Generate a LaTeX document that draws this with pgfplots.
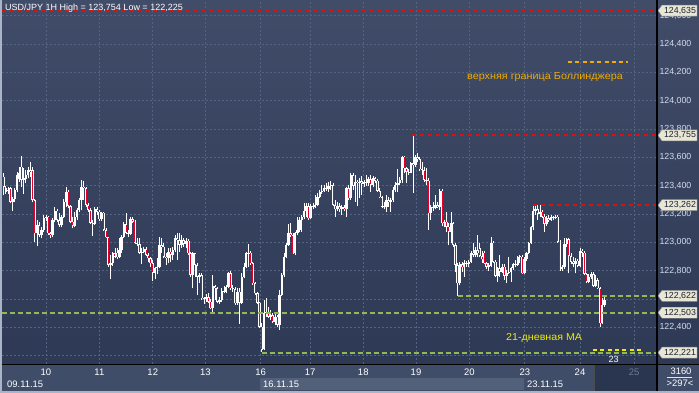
\documentclass[border=0pt]{standalone}
\usepackage{pgfplots}
\pgfplotsset{compat=1.18}
\usepackage{pgfplotstable}
\usepackage{fontspec}
\setmainfont{Liberation Sans}
\definecolor{edgec}{RGB}{170,180,198}
\definecolor{bgtop}{RGB}{64,76,104}
\definecolor{bgbot}{RGB}{46,57,85}
\definecolor{gridc}{RGB}{84,99,130}
\definecolor{stripc}{RGB}{64,77,104}
\definecolor{bandc}{RGB}{83,96,122}
\definecolor{futurec}{RGB}{42,53,79}
\definecolor{candred}{RGB}{228,0,40}
\definecolor{lvlred}{RGB}{214,18,18}
\definecolor{lvlgreen}{RGB}{145,185,85}
\definecolor{bollc}{RGB}{240,172,0}
\definecolor{mac}{RGB}{236,236,0}
\definecolor{tickc}{RGB}{212,222,240}
\definecolor{flagc}{RGB}{232,230,212}
\definecolor{flagtext}{RGB}{28,34,50}
\definecolor{daygrey}{RGB}{110,124,150}
\newcommand\lblfont{\fontsize{8.8}{10}\selectfont}
\pgfplotstableread{
i o h l c
0 123.463 123.487 123.334 123.393
1 123.357 123.397 123.341 123.381
2 123.369 123.393 123.341 123.364
3 123.381 123.393 123.275 123.287
4 123.287 123.322 123.223 123.303
5 123.303 123.381 123.287 123.369
6 123.369 123.498 123.357 123.475
7 123.444 123.534 123.428 123.487
8 123.534 123.609 123.393 123.440
9 123.440 123.522 123.341 123.451
10 123.444 123.510 123.416 123.475
11 123.475 123.534 123.451 123.510
12 123.510 123.569 123.463 123.498
13 123.510 123.534 123.287 123.299
14 123.299 123.303 123.005 123.063
15 123.063 123.157 122.974 123.122
16 123.122 123.146 123.040 123.052
17 123.052 123.110 123.028 123.087
18 123.087 123.193 123.075 123.169
19 123.169 123.193 123.153 123.181
20 123.181 123.186 123.052 123.063
21 123.063 123.075 123.028 123.052
22 123.052 123.169 123.040 123.157
23 123.157 123.252 123.146 123.223
24 123.223 123.233 123.146 123.157
25 123.157 123.204 123.110 123.122
26 123.122 123.193 123.110 123.181
27 123.181 123.303 123.169 123.287
28 123.287 123.393 123.252 123.357
29 123.357 123.369 123.240 123.256
30 123.256 123.263 123.134 123.146
31 123.146 123.181 123.099 123.115
32 123.115 123.216 123.106 123.181
33 123.181 123.240 123.157 123.228
34 123.228 123.310 123.216 123.299
35 123.299 123.440 123.228 123.393
36 123.393 123.435 123.299 123.381
37 123.381 123.393 123.252 123.263
38 123.263 123.275 123.216 123.228
39 123.228 123.240 123.129 123.139
40 123.139 123.157 123.045 123.129
41 123.129 123.247 123.122 123.233
42 123.233 123.247 123.193 123.216
43 123.216 123.228 123.153 123.162
44 123.162 123.216 123.153 123.209
45 123.209 123.216 123.082 123.087
46 123.087 123.099 123.028 123.035
47 123.035 123.040 122.828 122.840
48 122.840 122.910 122.739 122.852
49 122.852 122.934 122.833 122.922
50 122.922 122.958 122.887 122.899
51 122.927 122.958 122.880 122.894
52 122.894 123.028 122.887 122.946
53 122.946 123.052 122.922 123.035
54 123.035 123.146 123.028 123.129
55 123.129 123.204 123.059 123.068
56 123.068 123.087 123.040 123.059
57 123.059 123.176 123.052 123.162
58 123.162 123.181 123.134 123.146
59 123.146 123.157 122.988 122.998
60 122.998 123.028 122.974 122.988
61 122.988 123.028 122.918 122.927
62 122.927 122.958 122.847 122.934
63 122.934 122.969 122.922 122.953
64 122.953 122.965 122.903 122.910
65 122.910 122.922 122.863 122.887
66 122.887 122.899 122.828 122.852
67 122.852 122.875 122.729 122.786
68 122.786 122.828 122.739 122.816
69 122.816 122.887 122.776 122.828
70 122.828 123.040 122.816 122.981
71 122.981 123.028 122.922 122.969
72 122.969 122.993 122.887 122.899
73 122.899 122.922 122.840 122.887
74 122.887 122.958 122.852 122.934
75 122.934 122.958 122.863 122.910
76 122.910 122.969 122.875 122.946
77 122.946 123.052 122.934 123.028
78 123.028 123.063 122.875 123.016
79 123.016 123.068 122.934 122.981
80 122.981 123.052 122.958 123.016
81 123.016 123.028 122.969 122.988
82 122.988 123.028 122.958 123.012
83 123.012 123.021 122.910 122.922
84 122.922 122.934 122.758 122.769
85 122.769 122.934 122.675 122.922
86 122.922 122.927 122.758 122.840
87 122.840 122.852 122.628 122.758
88 122.758 122.781 122.710 122.769
89 122.769 122.781 122.593 122.605
90 122.605 122.616 122.565 122.598
91 122.598 122.635 122.581 122.612
92 122.612 122.640 122.574 122.581
93 122.581 122.598 122.527 122.534
94 122.534 122.769 122.494 122.692
95 122.692 122.699 122.593 122.675
96 122.675 122.687 122.569 122.581
97 122.581 122.616 122.565 122.593
98 122.593 122.675 122.581 122.659
99 122.659 122.692 122.640 122.652
100 122.652 122.699 122.640 122.687
101 122.687 122.793 122.675 122.781
102 122.781 122.800 122.664 122.675
103 122.675 122.699 122.652 122.668
104 122.668 122.687 122.558 122.569
105 122.569 122.675 122.558 122.652
106 122.652 122.675 122.424 122.574
107 122.574 122.781 122.565 122.758
108 122.758 122.852 122.746 122.828
109 122.828 122.934 122.816 122.922
110 122.922 122.988 122.828 122.927
111 122.927 122.941 122.840 122.852
112 122.852 122.863 122.699 122.710
113 122.710 122.722 122.628 122.640
114 122.640 122.652 122.565 122.574
115 122.574 122.581 122.393 122.405
116 122.405 122.428 122.225 122.240
117 122.250 122.593 122.238 122.499
118 122.499 122.605 122.475 122.511
119 122.511 122.546 122.464 122.475
120 122.475 122.522 122.452 122.487
121 122.487 122.499 122.428 122.440
122 122.440 122.511 122.416 122.475
123 122.475 122.487 122.400 122.416
124 122.416 122.664 122.381 122.628
125 122.628 122.781 122.621 122.769
126 122.769 122.922 122.758 122.899
127 122.899 122.993 122.887 122.981
128 122.981 123.129 122.974 123.063
129 123.063 123.134 123.040 123.052
130 123.052 123.068 122.918 122.922
131 122.922 123.075 122.910 123.063
132 123.063 123.181 123.052 123.087
133 123.087 123.181 123.075 123.157
134 123.157 123.193 123.075 123.181
135 123.181 123.275 123.162 123.223
136 123.223 123.275 123.181 123.256
137 123.256 123.275 123.157 123.169
138 123.169 123.270 123.162 123.256
139 123.256 123.275 123.233 123.247
140 123.247 123.334 123.240 123.263
141 123.263 123.346 123.256 123.322
142 123.322 123.369 123.310 123.357
143 123.357 123.404 123.341 123.364
144 123.364 123.404 123.357 123.381
145 123.381 123.416 123.364 123.374
146 123.374 123.428 123.357 123.397
147 123.397 123.433 123.369 123.404
148 123.404 123.416 123.256 123.263
149 123.263 123.299 123.181 123.233
150 123.233 123.287 123.223 123.256
151 123.256 123.275 123.216 123.233
152 123.233 123.263 123.193 123.247
153 123.247 123.263 123.223 123.233
154 123.233 123.393 123.181 123.381
155 123.381 123.404 123.299 123.310
156 123.310 123.487 123.299 123.475
157 123.475 123.491 123.369 123.397
158 123.397 123.475 123.287 123.428
159 123.428 123.440 123.256 123.416
160 123.416 123.451 123.310 123.433
161 123.433 123.468 123.334 123.411
162 123.411 123.440 123.393 123.428
163 123.428 123.475 123.397 123.421
164 123.421 123.463 123.397 123.444
165 123.444 123.475 123.357 123.404
166 123.404 123.468 123.393 123.451
167 123.451 123.463 123.416 123.435
168 123.435 123.444 123.357 123.362
169 123.362 123.381 123.310 123.317
170 123.317 123.327 123.240 123.252
171 123.252 123.287 123.233 123.247
172 123.247 123.334 123.216 123.299
173 123.299 123.322 123.252 123.287
174 123.287 123.310 123.216 123.299
175 123.299 123.393 123.287 123.369
176 123.369 123.428 123.357 123.404
177 123.404 123.515 123.357 123.416
178 123.416 123.463 123.404 123.440
179 123.440 123.609 123.416 123.604
180 123.604 123.609 123.487 123.522
181 123.522 123.534 123.416 123.498
182 123.498 123.515 123.475 123.491
183 123.491 123.569 123.487 123.557
184 123.557 123.754 123.350 123.545
185 123.545 123.616 123.534 123.600
186 123.600 123.628 123.569 123.585
187 123.585 123.604 123.505 123.515
188 123.515 123.569 123.475 123.510
189 123.510 123.534 123.428 123.440
190 123.440 123.522 123.404 123.435
191 123.435 123.451 123.087 123.204
192 123.204 123.263 123.157 123.247
193 123.247 123.287 123.223 123.240
194 123.240 123.334 123.233 123.263
195 123.263 123.287 123.240 123.247
196 123.247 123.374 123.228 123.364
197 123.364 123.374 123.115 123.134
198 123.134 123.157 123.110 123.146
199 123.146 123.216 123.075 123.110
200 123.110 123.134 122.981 123.075
201 123.075 123.216 122.993 123.134
202 123.134 123.146 122.969 122.981
203 122.981 122.993 122.793 122.840
204 122.840 122.852 122.622 122.710
205 122.710 122.863 122.699 122.847
206 122.847 122.863 122.793 122.823
207 122.823 122.875 122.758 122.856
208 122.856 122.870 122.828 122.847
209 122.847 122.875 122.823 122.863
210 122.863 122.941 122.856 122.927
211 122.927 122.993 122.894 122.910
212 122.910 122.965 122.894 122.946
213 122.946 123.052 122.899 122.922
214 122.960 122.993 122.894 122.903
215 122.903 122.941 122.856 122.880
216 122.927 122.941 122.847 122.852
217 122.852 122.863 122.809 122.828
218 122.828 122.856 122.800 122.840
219 122.833 123.040 122.823 122.998
220 122.998 123.012 122.856 122.863
221 122.863 122.875 122.753 122.762
222 122.762 122.828 122.722 122.816
223 122.816 122.910 122.758 122.793
224 122.793 122.847 122.786 122.828
225 122.828 122.847 122.734 122.762
226 122.762 122.805 122.710 122.786
227 122.786 122.899 122.776 122.793
228 122.793 122.828 122.722 122.816
229 122.816 122.856 122.805 122.847
230 122.847 122.875 122.823 122.840
231 122.840 122.903 122.833 122.894
232 122.894 122.910 122.852 122.899
233 122.899 122.910 122.776 122.781
234 122.781 122.894 122.776 122.880
235 122.880 122.934 122.870 122.927
236 122.927 123.005 122.918 122.993
237 122.993 123.115 122.988 123.106
238 123.106 123.256 123.087 123.223
239 123.223 123.262 123.193 123.233
240 123.233 123.263 123.157 123.200
241 123.200 123.263 123.176 123.216
242 123.216 123.228 123.169 123.181
243 123.181 123.197 123.075 123.129
244 123.129 123.186 123.115 123.169
245 123.169 123.193 123.146 123.157
246 123.157 123.193 123.153 123.176
247 123.176 123.186 123.157 123.169
248 123.169 123.190 123.162 123.181
249 123.181 123.190 122.998 123.005
250 123.005 123.016 122.800 122.809
251 122.809 122.840 122.800 122.823
252 122.823 123.028 122.809 122.988
253 122.988 123.028 122.969 123.021
254 123.021 123.028 122.781 122.903
255 122.903 122.922 122.847 122.863
256 122.863 122.894 122.828 122.847
257 122.847 122.887 122.781 122.870
258 122.870 122.880 122.823 122.833
259 122.833 122.958 122.828 122.941
260 122.941 122.950 122.899 122.927
261 122.927 122.941 122.769 122.776
262 122.776 122.786 122.710 122.722
263 122.722 122.776 122.715 122.758
264 122.758 122.793 122.739 122.776
265 122.776 122.793 122.682 122.692
266 122.692 122.769 122.682 122.734
267 122.734 122.746 122.668 122.675
268 122.675 122.687 122.400 122.428
269 122.428 122.605 122.424 122.558
270 122.558 122.616 122.546 122.593
}\candles
\newcommand\flag[2]{%
  \fill[flagc, draw=black!45, line width=0.4pt] ([xshift=1pt]#1) -- ++(4,5.5) -- ++(35,0) -- ++(0,-11) -- ++(-35,0) -- cycle;
  \node[text=flagtext, font=\lblfont, inner sep=0pt] at ([xshift=23pt]#1) {#2};}
\begin{document}
\begin{tikzpicture}[x=1pt,y=1pt]
\useasboundingbox (0,0) rectangle (699,393);
\fill[edgec] (0,0) rectangle (699,393);
\shade[top color=bgtop, bottom color=bgbot] (2,29) rectangle (699,393);
\fill[stripc] (2,2) rectangle (699,28.5);
\fill[bandc] (260,3) rectangle (524,15);
\fill[futurec] (594,2) rectangle (656.5,28.5);
\begin{axis}[
  at={(2pt,29pt)}, anchor=south west,
  scale only axis, width=655pt, height=364pt,
  xmin=-0.76, xmax=293.6, ymin=122.1412, ymax=124.7099,
  axis line style={draw=none},
  tick style={draw=none},
  grid=major,
  major grid style={gridc, dash pattern=on 2pt off 2pt, line width=0.7pt},
  xtick={19.0,43.0,67.0,90.6,115.5,137.7,161.6,185.3,209.3,234.2,259.0,283.3},
  xticklabels={10,11,12,13,16,17,18,19,20,23,24,{\textcolor{daygrey}{25}}},
  xticklabel style={font=\fontsize{9.5}{10}\selectfont, text=white, anchor=north, yshift=-1.5pt},
  ytick={122.4,122.8,123.0,123.2,123.4,123.6,123.8,124.0,124.2,124.4,124.6},
  extra y ticks={122.2,122.6},
  extra y tick labels={},
  extra y tick style={grid=major, tick style={draw=none}},
  yticklabel pos=right,
  yticklabel style={font=\lblfont, text=tickc, anchor=west, xshift=-1pt,
    /pgf/number format/.cd, fixed, fixed zerofill, precision=3, use comma, 1000 sep={}, assume math mode=true},
  clip=true,
]
% wicks
\addplot[draw=none, mark=none, forget plot,
  error bars/.cd, y dir=plus, y explicit, error mark=none,
  error bar style={draw=white, solid, line width=0.9pt}]
  table[x=i, y=l, y error plus expr={\thisrow{h}-\thisrow{l}}] {\candles};
% bodies
\addplot[draw=none, mark=none, forget plot,
  error bars/.cd, y dir=plus, y explicit, error mark=none,
  error bar style={draw=white, solid, line width=2.3pt}]
  table[x=i, y expr={min(\thisrow{o},\thisrow{c})}, y error plus expr={max(abs(\thisrow{o}-\thisrow{c}),0.006)}] {\candles};
% red inner of falling candles
\addplot[draw=none, mark=none, forget plot,
  error bars/.cd, y dir=plus, y explicit, error mark=none,
  error bar style={draw=candred, solid, line width=1.0pt}]
  table[x=i, y expr={\thisrow{c}+0.005}, y error plus expr={max(\thisrow{o}-\thisrow{c}-0.010,0)}] {\candles};
% levels
\addplot[lvlred, line width=2.2pt, dash pattern=on 4pt off 4pt] coordinates {(-0.76,124.635) (293.6,124.635)};
\addplot[lvlred, line width=2.2pt, dash pattern=on 4pt off 4pt] coordinates {(183.5,123.755) (293.6,123.755)};
\addplot[lvlred, line width=2.2pt, dash pattern=on 4pt off 4pt] coordinates {(238.0,123.262) (293.6,123.262)};
\addplot[lvlgreen, line width=2.2pt, dash pattern=on 4.5pt off 3.5pt] coordinates {(204.2,122.622) (293.6,122.622)};
\addplot[lvlgreen, line width=2.2pt, dash pattern=on 4.5pt off 3.5pt] coordinates {(-0.76,122.503) (293.6,122.503)};
\addplot[lvlgreen, line width=2.2pt, dash pattern=on 4.5pt off 3.5pt] coordinates {(116.1,122.221) (293.6,122.221)};
\addplot[bollc, line width=2pt, dash pattern=on 4pt off 3.3pt] coordinates {(253.6,124.272) (280.6,124.272)};
\addplot[mac, line width=2pt, dash pattern=on 4pt off 3.3pt] coordinates {(264.9,122.240) (287.3,122.240)};
\coordinate (F1) at (axis cs:293.6,124.635);
\coordinate (F2) at (axis cs:293.6,123.755);
\coordinate (F3) at (axis cs:293.6,123.262);
\coordinate (F4) at (axis cs:293.6,122.622);
\coordinate (F5) at (axis cs:293.6,122.503);
\coordinate (F6) at (axis cs:293.6,122.221);
\end{axis}
\draw[black, line width=1.3pt] (2,28.6) -- (699,28.6);
\draw[black, line width=1.3pt] (657,2) -- (657,393);
\draw[black!70, line width=0.6pt] (594,2) -- (594,28);
\flag{F1}{124,635}
\flag{F2}{123,755}
\flag{F3}{123,262}
\flag{F4}{122,622}
\flag{F5}{122,503}
\flag{F6}{122,221}
\node[anchor=west, text=white, font=\fontsize{9}{10}\selectfont, inner sep=0pt] at (5,385) {USD/JPY 1H High = 123,754 Low = 122,225};
\node[anchor=west, text=bollc, font=\fontsize{10}{11}\selectfont, inner sep=0pt, xscale=1.08] at (467,316) {верхняя граница Боллинджера};
\node[anchor=west, text=mac, font=\fontsize{10}{11}\selectfont, inner sep=0pt, xscale=1.07] at (506,55) {21-дневная MA};
\node[text=white, font=\fontsize{9}{10}\selectfont, inner sep=0pt] at (613.5,33.3) {23};
\node[anchor=west, text=white, font=\fontsize{9.4}{10}\selectfont, inner sep=0pt] at (7,9) {09.11.15};
\node[anchor=west, text=white, font=\fontsize{9.4}{10}\selectfont, inner sep=0pt] at (263,9) {16.11.15};
\node[anchor=west, text=white, font=\fontsize{9.4}{10}\selectfont, inner sep=0pt] at (527,9) {23.11.15};
\node[text=white, font=\fontsize{9.4}{10}\selectfont, inner sep=0pt] at (681,21.3) {3160};
\draw[white!80!gray, line width=0.6pt] (667,15.7) -- (692,15.7);
\node[text=white, font=\fontsize{9.4}{10}\selectfont, inner sep=0pt] at (680,9.7) {>297<};
\end{tikzpicture}
\end{document}
